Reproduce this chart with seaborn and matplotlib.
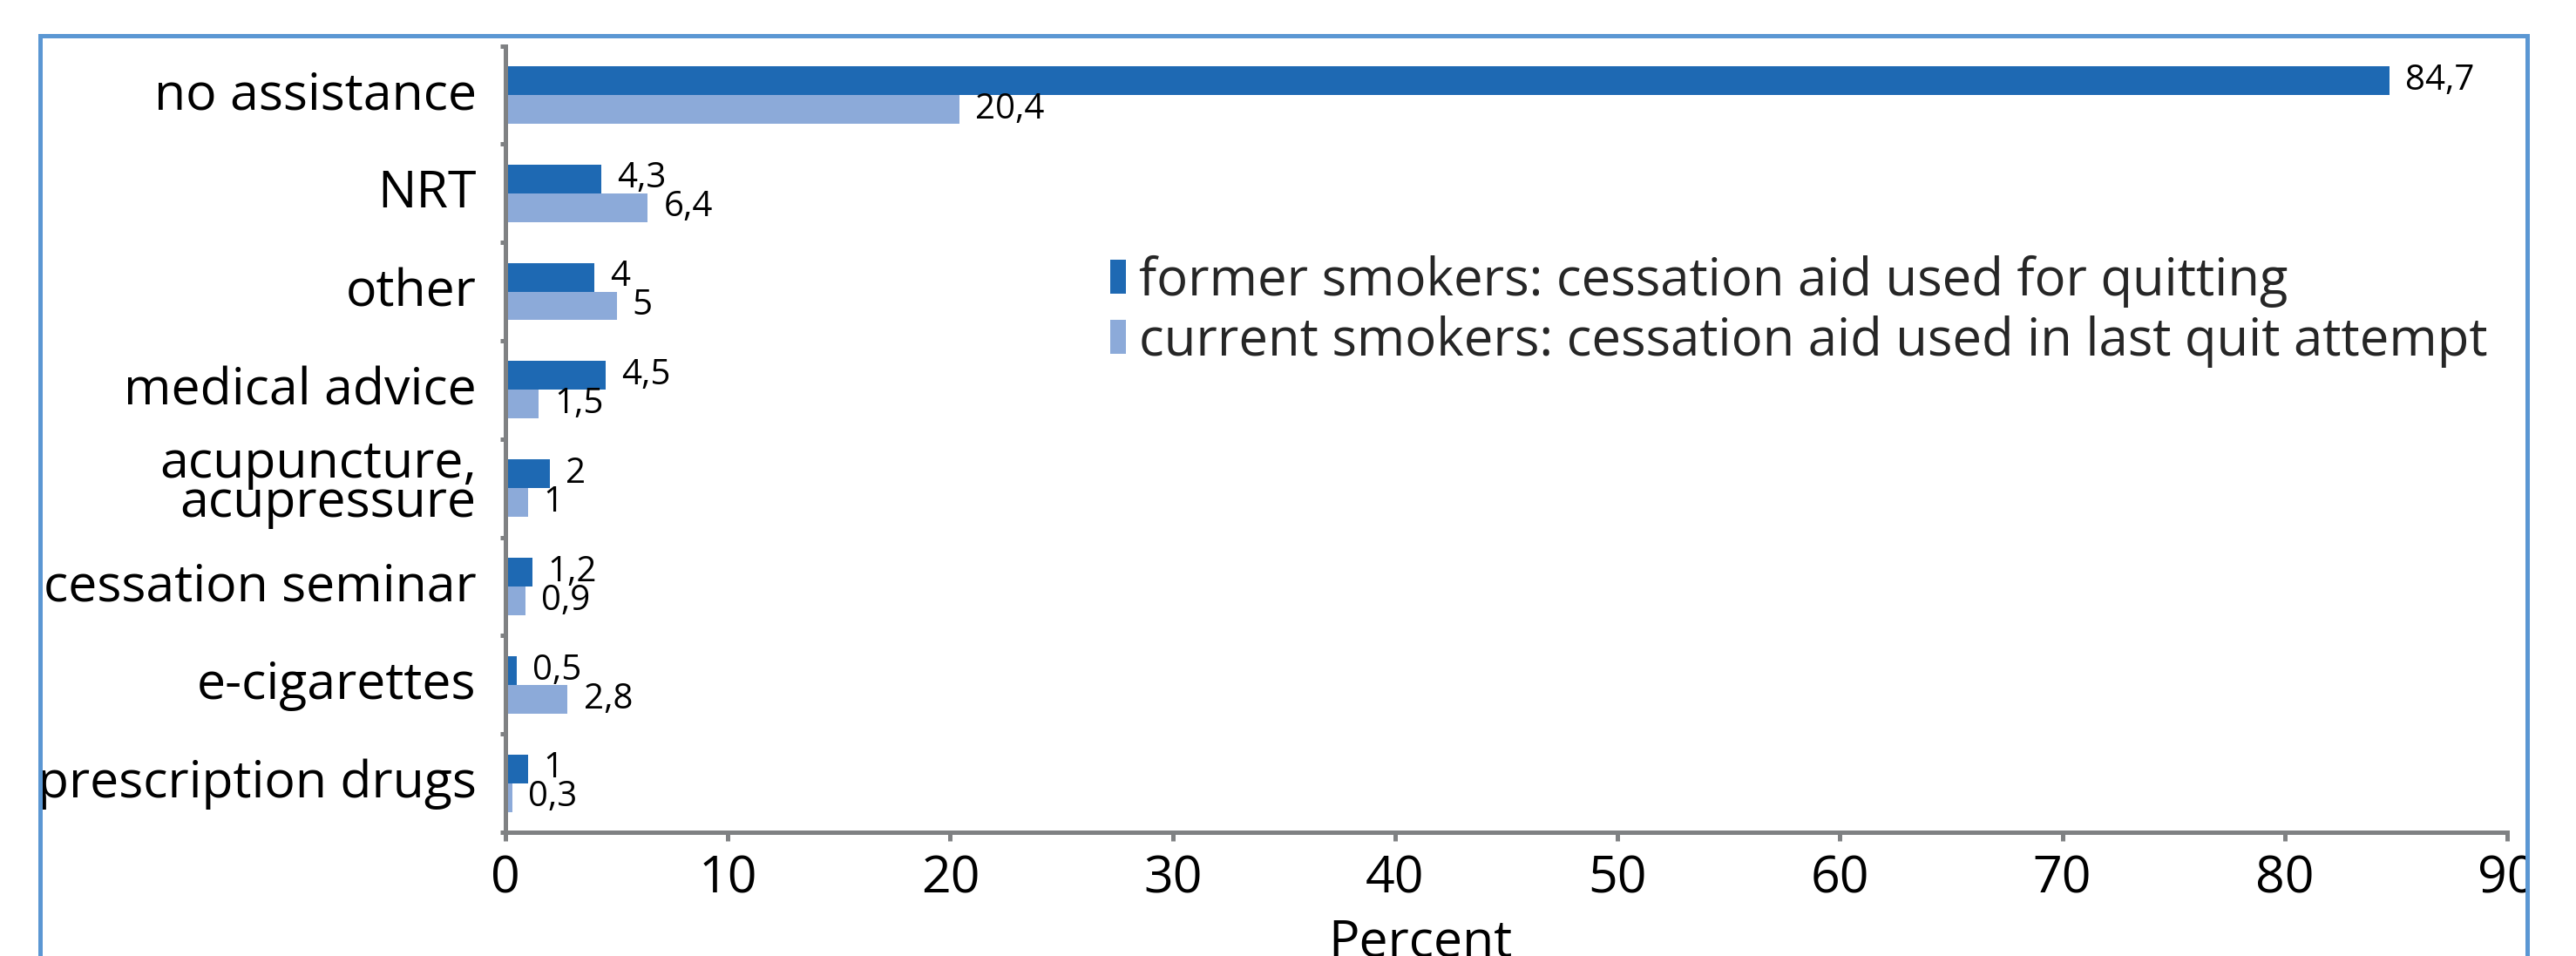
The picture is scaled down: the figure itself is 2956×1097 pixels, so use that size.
import matplotlib
matplotlib.use("Agg")
import matplotlib.pyplot as plt
import matplotlib.transforms as mtransforms
from matplotlib.patches import Rectangle
import numpy as np
import pandas as pd
import seaborn as sns

# Cessation aids and shares (percent)
aids = ["no assistance", "NRT", "other", "medical advice",
        "acupuncture,\nacupressure", "cessation seminar", "e-cigarettes",
        "prescription drugs"]
former = [84.7, 4.3, 4, 4.5, 2, 1.2, 0.5, 1]
current = [20.4, 6.4, 5, 1.5, 1, 0.9, 2.8, 0.3]
groups = ["former smokers: cessation aid used for quitting",
          "current smokers: cessation aid used in last quit attempt"]
x_ticks = [0, 10, 20, 30, 40, 50, 60, 70, 80, 90]

df = pd.DataFrame({
    "aid": aids * 2,
    "pct": former + current,
    "group": [groups[0]] * len(aids) + [groups[1]] * len(aids),
})

sns.set_style("white")
plt.rcParams["font.family"] = ["Open Sans", "DejaVu Sans"]

W, H = 2956, 1097
fig = plt.figure(figsize=(W / 100, H / 100), dpi=100)
ax = fig.add_axes([580 / W, 1 - 955 / H, (2877 - 580) / W, (955 - 52.5) / H])

DARK = "#1e69b3"
LIGHT = "#8caad9"
GREY = "#7f8183"

sns.barplot(data=df, y="aid", x="pct", hue="group", orient="h",
            palette=[DARK, LIGHT], saturation=1, width=0.584,
            errorbar=None, linewidth=0, ax=ax)

ax.set_xlim(0, 90)
ax.set_ylim(7.5, -0.5)
ax.set_xticks(x_ticks)
ax.set_xticklabels([str(t) for t in x_ticks])
ax.set_ylabel("")

# value labels with decimal comma; upper labels sit a little high
def fmt(v):
    return f"{v:g}".replace(".", ",")

nudges = [3.0, -1.0]
for cont, vals, dy in zip(ax.containers, [former, current], nudges):
    texts = ax.bar_label(cont, labels=[fmt(v) for v in vals], padding=13,
                         fontsize=29, color="black")
    shift = mtransforms.ScaledTranslation(0, dy / 72, fig.dpi_scale_trans)
    for t in texts:
        t.set_transform(t.get_transform() + shift)

# axes styling
sns.despine(ax=ax)
for side in ("left", "bottom"):
    ax.spines[side].set_color(GREY)
    ax.spines[side].set_linewidth(3.6)

ax.set_yticks(np.arange(-0.5, len(aids), 1), minor=True)
ax.tick_params(axis="y", which="major", left=False, length=0, pad=24,
               labelsize=42.5, labelcolor="black")
ax.tick_params(axis="y", which="minor", left=True, length=4.5, width=3.6,
               color=GREY, direction="out")
ax.tick_params(axis="x", which="major", bottom=True, length=7, width=3.6,
               color=GREY, direction="out", pad=11, labelsize=42.5,
               labelcolor="black")
lift = mtransforms.ScaledTranslation(0, 4 / 72, fig.dpi_scale_trans)
for lbl in ax.get_yticklabels():
    lbl.set_linespacing(0.7)
    lbl.set_transform(lbl.get_transform() + lift)

ax.set_xlabel("Percent", fontsize=42.5, color="black")
ax.xaxis.set_label_coords((1630 - 580) / (2877 - 580), -0.109)

# legend
handles, labels = ax.get_legend_handles_labels()
ax.legend(handles, labels, loc="center left",
          bbox_to_anchor=(1274 / W, 1 - 357 / H),
          bbox_transform=fig.transFigure, frameon=False, fontsize=43,
          handlelength=0.3, handleheight=0.62, handletextpad=0.25,
          labelspacing=0.15, borderpad=0, borderaxespad=0)

# outer frame, with white margins outside it
fig.add_artist(Rectangle((0, 0), 43 / W, 1, transform=fig.transFigure,
                         facecolor="white", edgecolor="none", zorder=4))
fig.add_artist(Rectangle((2902 / W, 0), 1 - 2902 / W, 1,
                         transform=fig.transFigure, facecolor="white",
                         edgecolor="none", zorder=4))
top = 1 - 40.5 / H
fig.add_artist(Rectangle((45.5 / W, -0.1), (2900 - 45.5) / W, top + 0.1,
                         transform=fig.transFigure, fill=False,
                         edgecolor="#5b97d3", linewidth=3.6, zorder=5))

fig.savefig("out.png", dpi=100)
